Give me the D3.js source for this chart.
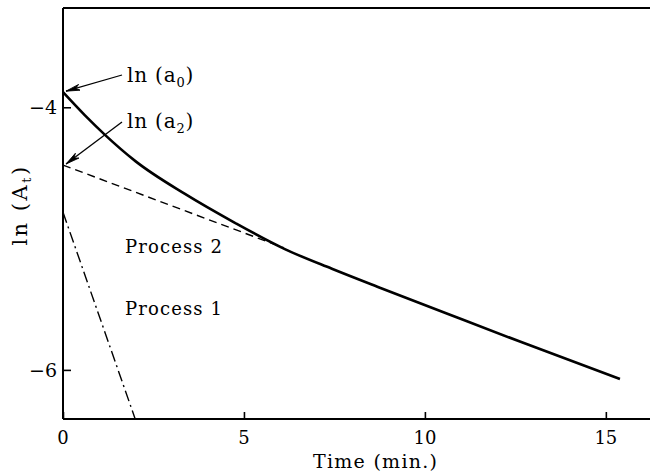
<!DOCTYPE html>
<html>
<head>
<meta charset="utf-8">
<script src="https://cdn.jsdelivr.net/npm/d3@7"></script>
<style>
  html, body { margin: 0; padding: 0; background: #fff; }
  svg { display: block; }
  text { font-family: "DejaVu Serif", "Liberation Serif", serif; fill: #000; }
</style>
</head>
<body>
<svg id="chart" width="650" height="476"></svg>
<script>
// Total ln(A_t) decay curve
const totalTime = [0, 0.6, 1.16, 2.0, 3.37, 4.75, 6.13, 7.43, 8.81, 11.02, 12.68, 15.39];
const totalLnA  = [-3.885, -4.06, -4.21, -4.41, -4.66, -4.88, -5.08, -5.23, -5.38, -5.615, -5.79, -6.07];

// Process 2 extrapolated back to t = 0 (dashed)
const process2Time = [0, 6.1];
const process2LnA  = [-4.44, -5.07];

// Process 1 (dash-dot)
const process1Time = [0, 1.99];
const process1LnA  = [-4.80, -6.37];

// Axis ticks
const xTicks = [0, 5, 10, 15];
const yTicks = [-4, -6];

// Intercept values pointed at by the annotations
const lnA0 = totalLnA[0];
const lnA2 = process2LnA[0];

const svg = d3.select("#chart");

const plotLeft = 63, plotRight = 650, plotTop = 8, plotBottom = 419;

const x = d3.scaleLinear().domain([0, 16.22]).range([plotLeft, plotRight]);
const y = d3.scaleLinear().domain([-6.374, -3.244]).range([plotBottom, plotTop]);

// Frame: left axis, bottom axis, top border
svg.append("line").attr("x1", plotLeft).attr("x2", plotLeft).attr("y1", plotTop).attr("y2", plotBottom)
  .attr("stroke", "#000").attr("stroke-width", 2);
svg.append("line").attr("x1", plotLeft).attr("x2", plotRight).attr("y1", plotBottom).attr("y2", plotBottom)
  .attr("stroke", "#000").attr("stroke-width", 2);
svg.append("line").attr("x1", plotLeft).attr("x2", plotRight).attr("y1", plotTop).attr("y2", plotTop)
  .attr("stroke", "#000").attr("stroke-width", 2);

// X axis: inward ticks
const xAxis = d3.axisTop(x).tickValues(xTicks).tickSize(7).tickFormat("");
const gx = svg.append("g").attr("transform", `translate(0,${plotBottom})`).call(xAxis);
gx.select(".domain").remove();
gx.selectAll(".tick line").attr("stroke-width", 1.6);
svg.append("g").selectAll("text").data(xTicks).join("text")
  .attr("x", d => x(d)).attr("y", plotBottom + 25)
  .attr("text-anchor", "middle").attr("font-size", 18)
  .text(d => d);

// Y axis: inward ticks
const yAxis = d3.axisRight(y).tickValues(yTicks).tickSize(8).tickFormat("");
const gy = svg.append("g").attr("transform", `translate(${plotLeft},0)`).call(yAxis);
gy.select(".domain").remove();
gy.selectAll(".tick line").attr("stroke-width", 1.6);
svg.append("g").selectAll("text").data(yTicks).join("text")
  .attr("x", plotLeft - 6).attr("y", d => y(d) + 7)
  .attr("text-anchor", "end").attr("font-size", 19)
  .text(d => "\u2212" + Math.abs(d));

// Axis titles
svg.append("text").attr("x", 375).attr("y", 468).attr("text-anchor", "middle")
  .attr("font-size", 19).attr("textLength", 124).attr("lengthAdjust", "spacing")
  .text("Time (min.)");

const yTitle = svg.append("text")
  .attr("transform", "translate(27,205) rotate(-90)")
  .attr("text-anchor", "middle").attr("font-size", 21).attr("letter-spacing", 2.5);
yTitle.append("tspan").text("ln (A");
yTitle.append("tspan").attr("font-size", 13).attr("dy", 4).text("t");
yTitle.append("tspan").attr("dy", -4).text(")");

// Curves
const line = d3.line().x(d => x(d[0])).y(d => y(d[1]));

svg.append("path")
  .datum(process2Time.map((t, i) => [t, process2LnA[i]]))
  .attr("d", line).attr("fill", "none").attr("stroke", "#000")
  .attr("stroke-width", 1.4).attr("stroke-dasharray", "8,5");

svg.append("path")
  .datum(process1Time.map((t, i) => [t, process1LnA[i]]))
  .attr("d", line).attr("fill", "none").attr("stroke", "#000")
  .attr("stroke-width", 1.4).attr("stroke-dasharray", "11,4,2,4");

svg.append("path")
  .datum(totalTime.map((t, i) => [t, totalLnA[i]]))
  .attr("d", d3.line().x(d => x(d[0])).y(d => y(d[1])).curve(d3.curveMonotoneX))
  .attr("fill", "none").attr("stroke", "#000")
  .attr("stroke-width", 2.6).attr("stroke-linecap", "butt");

// Process labels
svg.append("text").attr("x", 125).attr("y", 253).attr("font-size", 18)
  .attr("textLength", 97).attr("lengthAdjust", "spacing").text("Process 2");
svg.append("text").attr("x", 125).attr("y", 315).attr("font-size", 18)
  .attr("textLength", 97).attr("lengthAdjust", "spacing").text("Process 1");

// Annotation arrows
svg.append("defs").append("marker")
  .attr("id", "head").attr("viewBox", "0 0 14 8")
  .attr("refX", 14).attr("refY", 4)
  .attr("markerWidth", 14).attr("markerHeight", 8)
  .attr("markerUnits", "userSpaceOnUse").attr("orient", "auto")
  .append("path").attr("d", "M0,1 L14,4 L0,7 L4,4 Z")
  .attr("fill", "#000").attr("stroke", "#000").attr("stroke-width", 0.8);

const notes = [
  { v: lnA0, sub: "0", tx: 127, ty: 82, ax: 122, ay: 75 },
  { v: lnA2, sub: "2", tx: 127, ty: 128, ax: 122, ay: 122 }
];
notes.forEach(n => {
  svg.append("line")
    .attr("x1", n.ax).attr("y1", n.ay)
    .attr("x2", x(0) + 3).attr("y2", y(n.v) - 1)
    .attr("stroke", "#000").attr("stroke-width", 1.3)
    .attr("marker-end", "url(#head)");
  const t = svg.append("text").attr("x", n.tx).attr("y", n.ty).attr("font-size", 20)
    .attr("letter-spacing", 0.8);
  t.append("tspan").text("ln (a");
  t.append("tspan").attr("font-size", 13).attr("dy", 5).text(n.sub);
  t.append("tspan").attr("dy", -5).text(")");
});
</script>
</body>
</html>
